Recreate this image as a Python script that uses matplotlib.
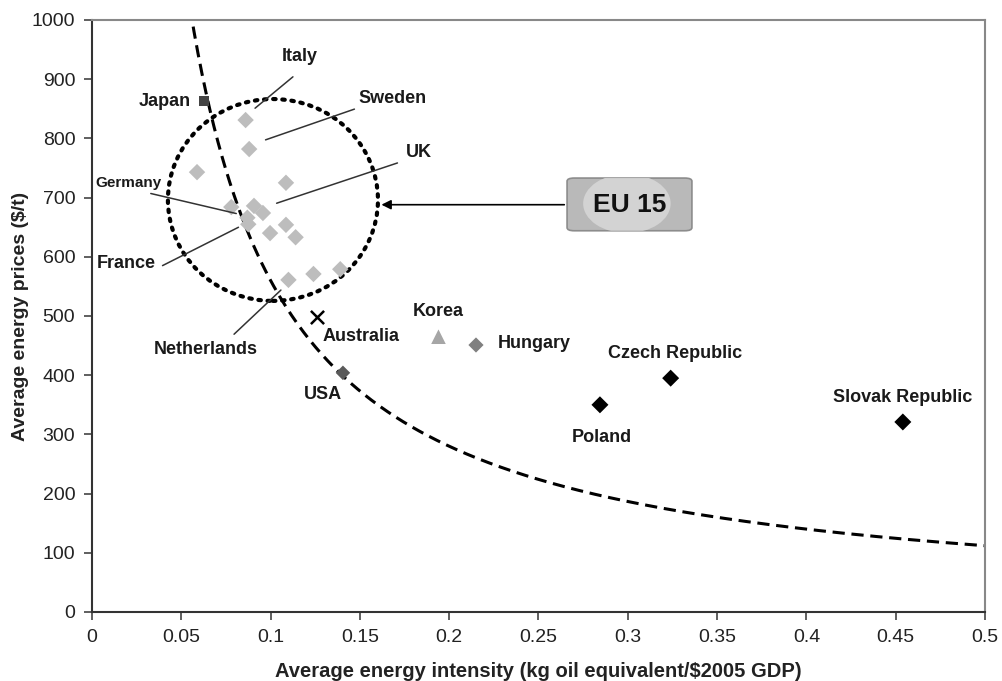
import numpy as np
import matplotlib
matplotlib.use("Agg")
import matplotlib.pyplot as plt
from matplotlib.patches import Ellipse, FancyBboxPatch

# ---------------- data ----------------
eu_x = [0.086, 0.088, 0.0588, 0.1086, 0.078, 0.0907, 0.0957, 0.087, 0.0875,
        0.0997, 0.1086, 0.114, 0.110, 0.124, 0.139]
eu_y = [831, 782, 743, 725, 684, 686, 674, 666, 655, 640, 654, 633, 561, 571, 579]

japan = (0.0627, 863)
australia = (0.126, 498)
korea = (0.194, 465)
hungary = (0.215, 451)
usa = (0.1405, 404)
czech = (0.324, 395)
poland = (0.2844, 350)
slovak = (0.454, 321)

curve_k = 56.0  # fitted hyperbola: price = k / intensity

x_ticks = [0, 0.05, 0.1, 0.15, 0.2, 0.25, 0.3, 0.35, 0.4, 0.45, 0.5]
x_tick_labels = ["0", "0.05", "0.1", "0.15", "0.2", "0.25", "0.3", "0.35", "0.4", "0.45", "0.5"]
y_ticks = list(range(0, 1001, 100))

# ---------------- figure ----------------
plt.rcParams['font.family'] = ['Liberation Sans', 'DejaVu Sans']
fig = plt.figure(figsize=(10.03, 6.81), dpi=100)
ax = fig.add_axes([92/1003, 1-612/681, (985-92)/1003, (612-20)/681])
ax.set_xlim(0, 0.5)
ax.set_ylim(0, 1000)

# curve
cx = np.linspace(curve_k/1000*0.98, 0.5, 400)
ax.plot(cx, curve_k/cx, color='black', lw=2.2, ls=(0, (4, 2.2)), zorder=2, clip_on=True)

# EU circle
circ = Ellipse((0.1013, 696), 0.1176, 341, fill=False, edgecolor='black', lw=3.0,
               linestyle=(0, (0.6, 1.6)), capstyle='round', zorder=3)
ax.add_patch(circ)

# markers
ax.scatter(eu_x, eu_y, marker='D', s=70, color='#bdbdbd', edgecolor='none', zorder=4)
ax.scatter([japan[0]], [japan[1]], marker='s', s=60, color='#444444', edgecolor='none', zorder=4)
ax.scatter([australia[0]], [australia[1]], marker='x', s=90, color='black', lw=1.8, zorder=4)
ax.scatter([korea[0]], [korea[1]], marker='^', s=110, color='#a6a6a6', edgecolor='none', zorder=4)
ax.scatter([hungary[0]], [hungary[1]], marker='D', s=60, color='#808080', edgecolor='none', zorder=4)
ax.scatter([usa[0]], [usa[1]], marker='D', s=55, color='#5a5a5a', edgecolor='none', zorder=4)
ax.scatter([czech[0], poland[0], slovak[0]], [czech[1], poland[1], slovak[1]],
           marker='D', s=75, color='black', edgecolor='none', zorder=4)

# labels
lab_kw = dict(fontsize=13, fontweight='bold', color='#1a1a1a', va='center', zorder=6)
labels = [
    ("Italy", 0.1165, 938, 'center'),
    ("Sweden", 0.1685, 867, 'center'),
    ("UK", 0.183, 777, 'center'),
    ("France", 0.019, 588, 'center'),
    ("Netherlands", 0.0638, 443, 'center'),
    ("Japan", 0.0554, 863, 'right'),
    ("Australia", 0.1506, 465, 'center'),
    ("Korea", 0.1937, 507, 'center'),
    ("Hungary", 0.2273, 453, 'left'),
    ("USA", 0.1293, 367, 'center'),
    ("Czech Republic", 0.3264, 437, 'center'),
    ("Poland", 0.2856, 294, 'center'),
    ("Slovak Republic", 0.4541, 363, 'center'),
]
for t, lx, ly, ha in labels:
    ax.text(lx, ly, t, ha=ha, **lab_kw)
ax.text(0.0207, 725, "Germany", ha='center', va='center', fontsize=11,
        fontweight='bold', color='#1a1a1a', zorder=6)

# leader lines
leaders = [
    ((0.1137, 907), (0.0901, 848)),
    ((0.1484, 851), (0.0957, 796)),
    ((0.1725, 760), (0.1019, 689)),
    ((0.0314, 708), (0.0823, 672)),
    ((0.0381, 583), (0.0834, 652)),
    ((0.0784, 466), (0.1069, 547)),
]
for (x0, y0), (x1, y1) in leaders:
    ax.annotate("", xy=(x1, y1), xytext=(x0, y0),
                arrowprops=dict(arrowstyle='-', color='#333333', lw=1.1), zorder=5)

# EU 15 box
box = FancyBboxPatch((0.2660, 644), 0.3359-0.2660, 733-644,
                     boxstyle="round,pad=0,rounding_size=0.004",
                     mutation_aspect=1000/0.5*592/893,
                     facecolor='#b9b9b9', edgecolor='#8c8c8c', lw=1.2, zorder=5)
ax.add_patch(box)
glow = Ellipse((0.2995, 690), 0.049, 100, facecolor='#d3d3d3', edgecolor='none', zorder=5.5)
ax.add_patch(glow)
glow.set_clip_path(box)
ax.text(0.3012, 688, "EU 15", ha='center', va='center', fontsize=19, fontweight='bold',
        color='#111111', zorder=6)
ax.annotate("", xy=(0.1605, 688), xytext=(0.2660, 688),
            arrowprops=dict(arrowstyle='-|>', color='black', lw=1.2, mutation_scale=14), zorder=5)

# axes styling
ax.set_xticks(x_ticks)
ax.set_xticklabels(x_tick_labels)
ax.set_yticks(y_ticks)
for lbl in ax.get_xticklabels() + ax.get_yticklabels():
    lbl.set_fontfamily(['Liberation Sans Narrow', 'Liberation Sans'])
    lbl.set_fontsize(14)
    lbl.set_color('#222222')
ax.tick_params(direction='out', length=6, width=1.2, color='#444444', pad=6)
for s in ['left', 'bottom']:
    ax.spines[s].set_color('#333333')
    ax.spines[s].set_linewidth(1.5)
for s in ['top', 'right']:
    ax.spines[s].set_color('#888888')
    ax.spines[s].set_linewidth(1.5)

ax.set_xlabel("Average energy intensity (kg oil equivalent/$2005 GDP)", fontsize=14.5,
              fontweight='bold', color='#222222', labelpad=12)
ax.set_ylabel("Average energy prices ($/t)", fontsize=14, fontweight='bold',
              color='#222222', labelpad=2)

fig.savefig("out.png", dpi=100)
